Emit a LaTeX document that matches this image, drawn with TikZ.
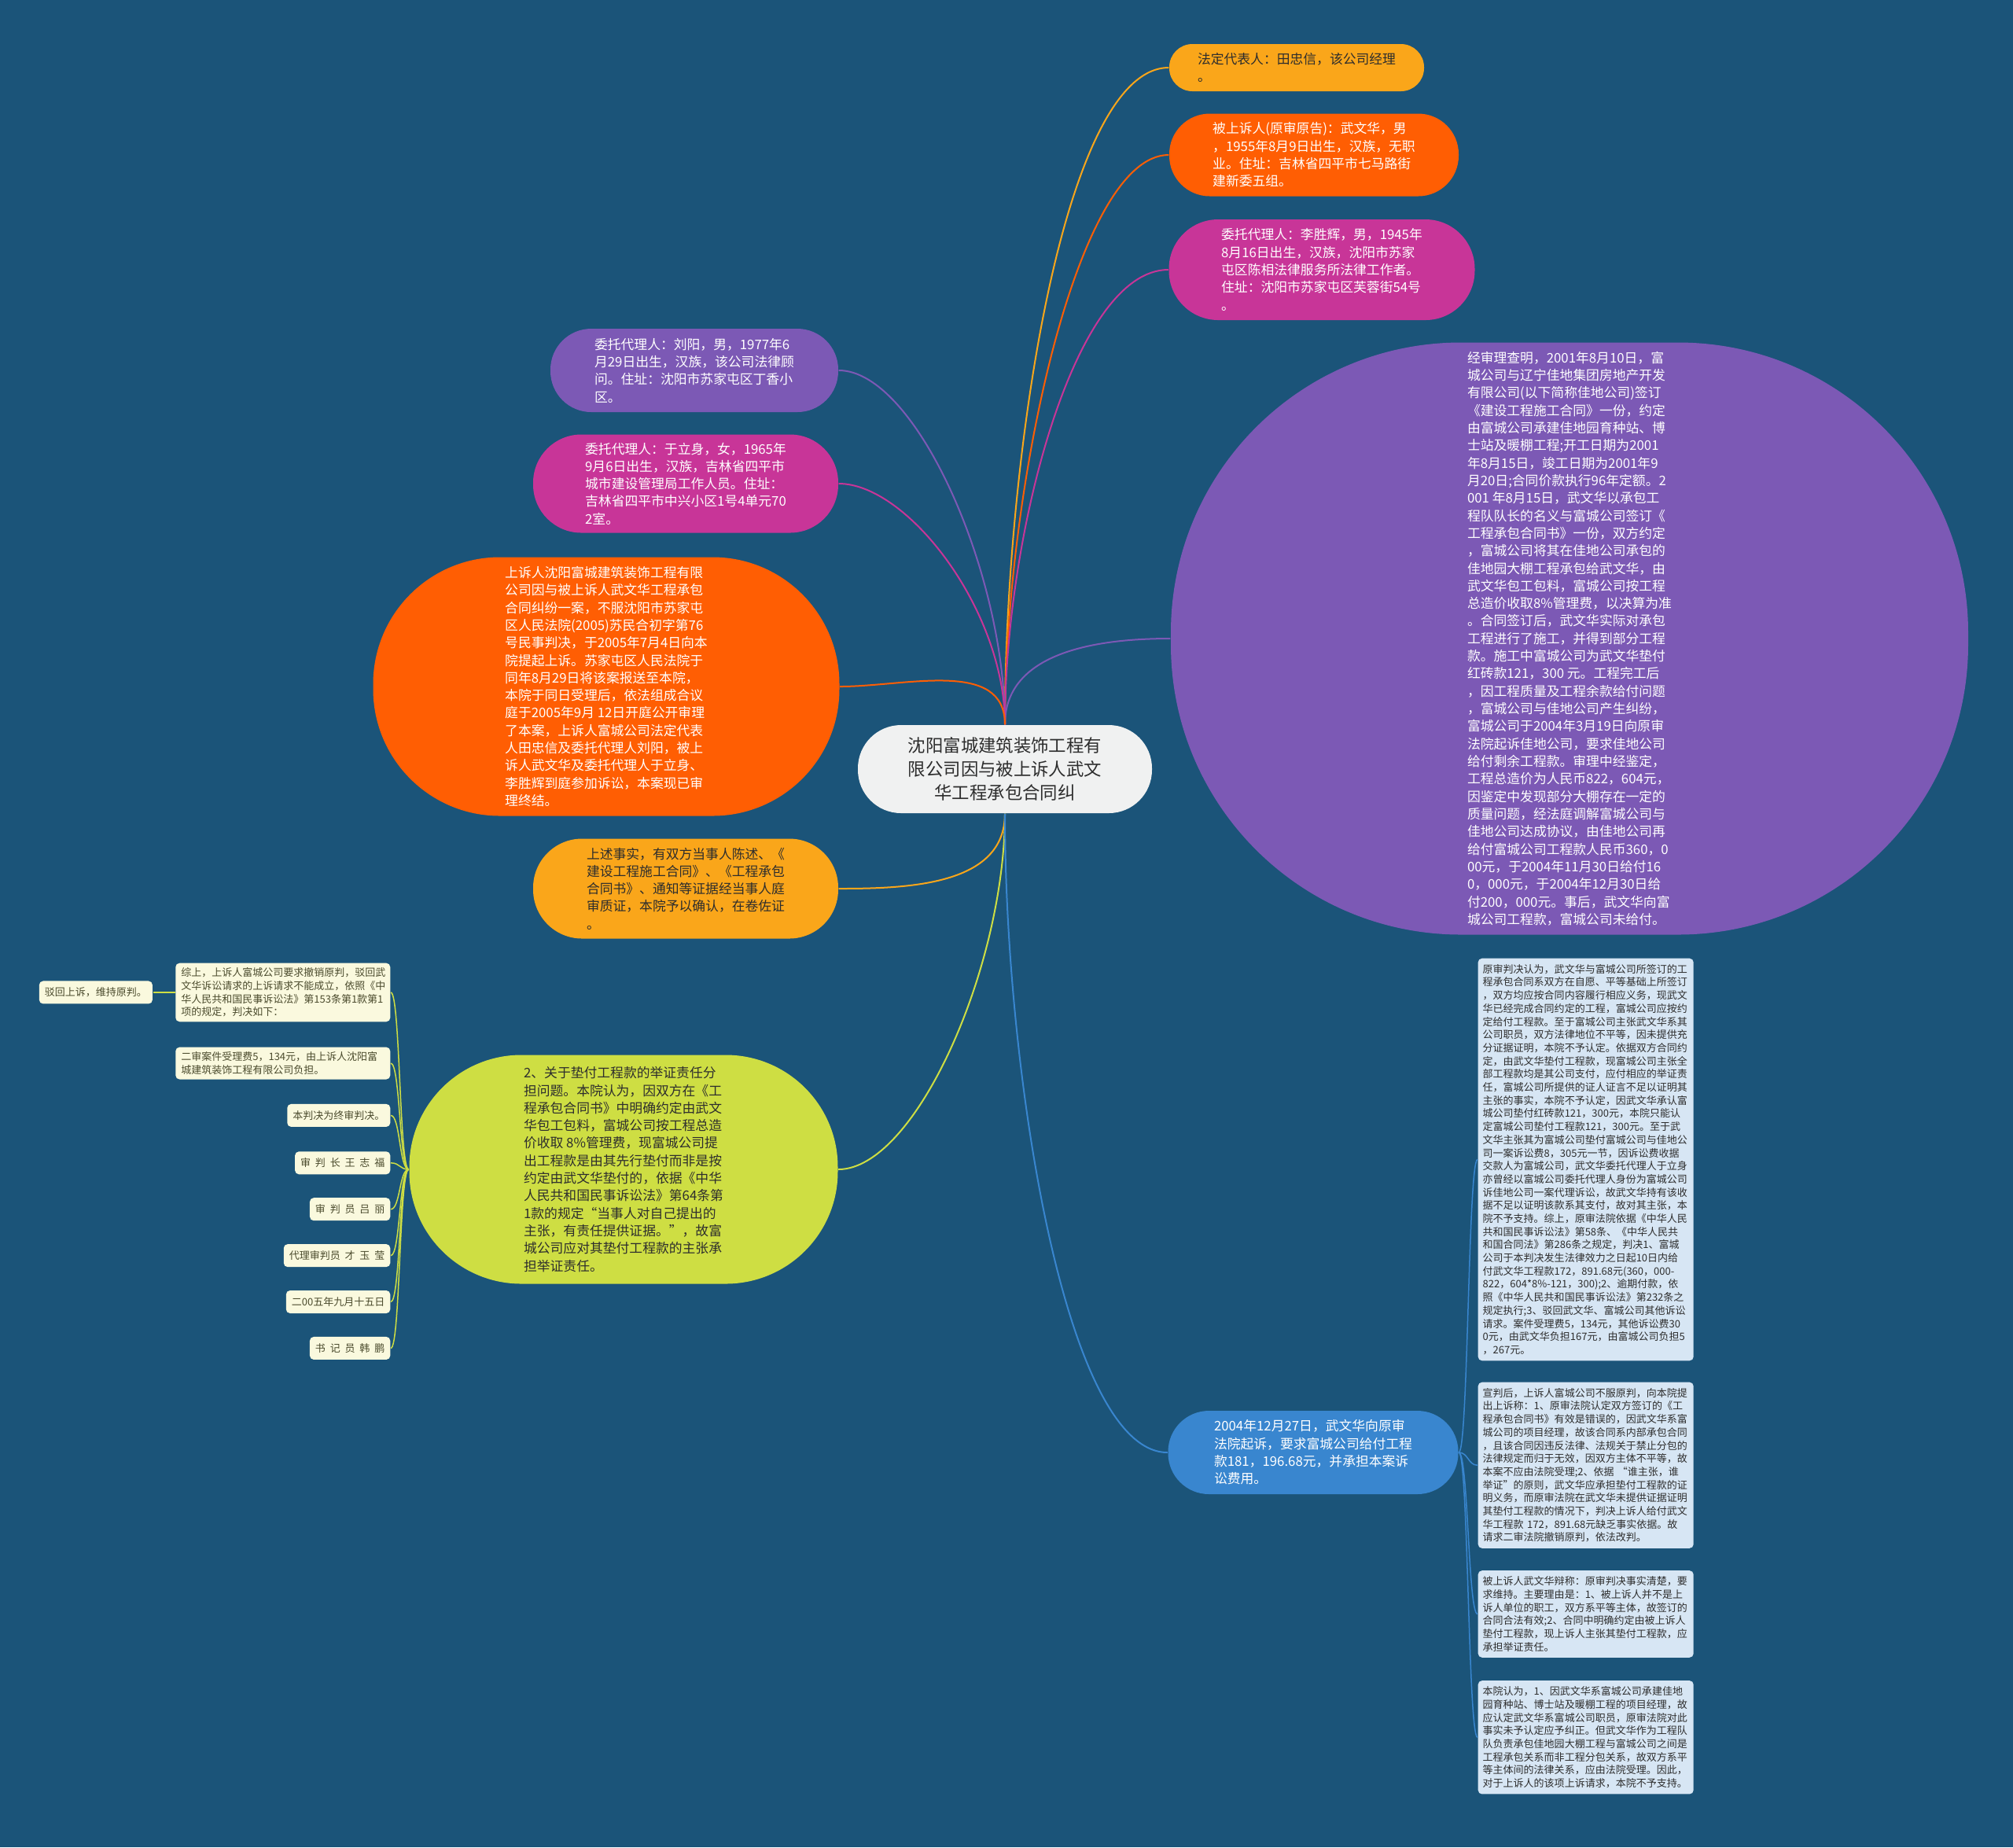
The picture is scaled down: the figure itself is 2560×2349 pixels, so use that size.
\documentclass[tikz,border=0pt]{standalone}
\usepackage{fontspec}
\usepackage{xcolor}
\usepackage{tikz}
\usetikzlibrary{positioning}
\setmainfont{Noto Sans CJK SC}
\newfontfamily\cjk{Noto Sans CJK SC}
\definecolor{bgblue}{RGB}{27,84,121}
\definecolor{cAmber}{RGB}{250,166,26}
\definecolor{cOrange}{RGB}{255,94,3}
\definecolor{cMagenta}{RGB}{200,53,152}
\definecolor{cPurple}{RGB}{124,89,181}
\definecolor{cLime}{RGB}{206,222,67}
\definecolor{cBlue}{RGB}{57,134,207}
\definecolor{cCenter}{RGB}{240,241,241}
\definecolor{cCream}{RGB}{250,249,222}
\definecolor{cIce}{RGB}{215,230,244}
\definecolor{darktext}{RGB}{45,45,45}
\definecolor{olivetext}{RGB}{75,75,45}
\newcommand\midfont{\cjk\fontsize{4.78pt}{6.35pt}\selectfont}
\newcommand\smallfont{\cjk\fontsize{3.7pt}{4.75pt}\selectfont}
\newcommand\bigfont{\cjk\fontsize{6.37pt}{8.54pt}\selectfont}

\begin{document}
\begin{tikzpicture}[
  x=0.1mm, y=-0.1mm,
  pill/.style 2 args={minimum width=#1mm,minimum height=#2mm,rounded corners=#2*0.49mm,inner sep=0pt,align=left,font=\midfont},
  note/.style={fill=cCream,text=olivetext,rounded corners=0.5mm,inner xsep=0.7mm,inner ysep=0.6mm,minimum height=2.9mm,align=left,font=\smallfont},
  bnote/.style={fill=cIce,text=darktext,rounded corners=0.5mm,inner xsep=0.6mm,inner ysep=0.75mm,text width=26.2mm,align=left,font=\smallfont},
  link/.style={line width=0.2mm},
  sublink/.style={line width=0.15mm}]
\fill[bgblue] (0,0) rectangle (2560,2349);
\useasboundingbox (0,0) rectangle (2560,2349);

\node[pill={37.4}{11.2},fill=cCenter,text=darktext,font=\bigfont,align=center] (root) at (1278,978)
  {沈阳富城建筑装饰工程有\\限公司因与被上诉人武文\\华工程承包合同纠};

% right side
\node[pill={32.4}{6.0},fill=cAmber,text=darktext] (legal) at (1649,86)
  {法定代表人：田忠信，该公司经理\\。};
\node[pill={36.8}{10.5},fill=cOrange,text=white] (appellee) at (1671,197)
  {被上诉人(原审原告)：武文华，男\\，1955年8月9日出生，汉族，无职\\业。住址：吉林省四平市七马路街\\建新委五组。};
\node[pill={38.9}{12.8},fill=cMagenta,text=white] (agentli) at (1681,343)
  {委托代理人：李胜辉，男，1945年\\8月16日出生，汉族，沈阳市苏家\\屯区陈相法律服务所法律工作者。\\住址：沈阳市苏家屯区芙蓉街54号\\。};
\node[pill={101.4}{75.3},fill=cPurple,text=white] (facts) at (1996,812)
  {经审理查明，2001年8月10日，富\\城公司与辽宁佳地集团房地产开发\\有限公司(以下简称佳地公司)签订\\《建设工程施工合同》一份，约定\\由富城公司承建佳地园育种站、博\\士站及暖棚工程;开工日期为2001\\年8月15日，竣工日期为2001年9\\月20日;合同价款执行96年定额。2\\001 年8月15日，武文华以承包工\\程队队长的名义与富城公司签订《\\工程承包合同书》一份，双方约定\\，富城公司将其在佳地公司承包的\\佳地园大棚工程承包给武文华，由\\武文华包工包料，富城公司按工程\\总造价收取8\%管理费，以决算为准\\。合同签订后，武文华实际对承包\\工程进行了施工，并得到部分工程\\款。施工中富城公司为武文华垫付\\红砖款121，300 元。工程完工后\\，因工程质量及工程余款给付问题\\，富城公司与佳地公司产生纠纷，\\富城公司于2004年3月19日向原审\\法院起诉佳地公司，要求佳地公司\\给付剩余工程款。审理中经鉴定，\\工程总造价为人民币822，604元，\\因鉴定中发现部分大棚存在一定的\\质量问题，经法庭调解富城公司与\\佳地公司达成协议，由佳地公司再\\给付富城公司工程款人民币360，0\\00元，于2004年11月30日给付16\\0，000元，于2004年12月30日给\\付200，000元。事后，武文华向富\\城公司工程款，富城公司未给付。};
\node[pill={36.9}{10.6},fill=cBlue,text=white] (suit) at (1670,1847)
  {2004年12月27日，武文华向原审\\法院起诉，要求富城公司给付工程\\款181，196.68元，并承担本案诉\\讼费用。};

% left side
\node[pill={36.6}{10.6},fill=cPurple,text=white] (agentliu) at (883,471)
  {委托代理人：刘阳，男，1977年6\\月29日出生，汉族，该公司法律顾\\问。住址：沈阳市苏家屯区丁香小\\区。};
\node[pill={38.8}{12.5},fill=cMagenta,text=white] (agentyu) at (872,615)
  {委托代理人：于立身，女，1965年\\9月6日出生，汉族，吉林省四平市\\城市建设管理局工作人员。住址：\\吉林省四平市中兴小区1号4单元70\\2室。};
\node[pill={59.3}{32.9},fill=cOrange,text=white] (appeal) at (771,873)
  {上诉人沈阳富城建筑装饰工程有限\\公司因与被上诉人武文华工程承包\\合同纠纷一案，不服沈阳市苏家屯\\区人民法院(2005)苏民合初字第76\\号民事判决，于2005年7月4日向本\\院提起上诉。苏家屯区人民法院于\\同年8月29日将该案报送至本院，\\本院于同日受理后，依法组成合议\\庭于2005年9月 12日开庭公开审理\\了本案，上诉人富城公司法定代表\\人田忠信及委托代理人刘阳，被上\\诉人武文华及委托代理人于立身、\\李胜辉到庭参加诉讼，本案现已审\\理终结。};
\node[pill={38.8}{12.7},fill=cAmber,text=darktext] (evidence) at (872,1130)
  {上述事实，有双方当事人陈述、《\\建设工程施工合同》、《工程承包\\合同书》、通知等证据经当事人庭\\审质证，本院予以确认，在卷佐证\\。};
\node[pill={54.5}{29.1},fill=cLime,text=darktext] (burden) at (793,1487)
  {2、关于垫付工程款的举证责任分\\担问题。本院认为，因双方在《工\\程承包合同书》中明确约定由武文\\华包工包料，富城公司按工程总造\\价收取 8\%管理费，现富城公司提\\出工程款是由其先行垫付而非是按\\约定由武文华垫付的，依据《中华\\人民共和国民事诉讼法》第64条第\\1款的规定“当事人对自己提出的\\主张，有责任提供证据。”，故富\\城公司应对其垫付工程款的主张承\\担举证责任。};

% judgment notes
\node[note,text width=25.9mm,anchor=north east] (summary) at (497,1224)
  {综上，上诉人富城公司要求撤销原判，驳回武\\文华诉讼请求的上诉请求不能成立，依照《中\\华人民共和国民事诉讼法》第153条第1款第1\\项的规定，判决如下：};
\node[note,left=2.8mm of summary] (reject) {驳回上诉，维持原判。};
\node[note,text width=25.9mm,below=3.1mm of summary.south east,anchor=north east] (fee)
  {二审案件受理费5，134元，由上诉人沈阳富\\城建筑装饰工程有限公司负担。};
\node[note,below=3mm of fee.south east,anchor=north east] (final) {本判决为终审判决。};
\node[note,below=3mm of final.south east,anchor=north east] (judge) {审~~判~~长~~王~~志~~福};
\node[note,below=2.85mm of judge.south east,anchor=north east] (juror) {审~~判~~员~~吕~~丽};
\node[note,below=2.85mm of juror.south east,anchor=north east] (acting) {代理审判员~~才~~玉~~莹};
\node[note,below=2.85mm of acting.south east,anchor=north east] (date) {二00五年九月十五日};
\node[note,below=2.85mm of date.south east,anchor=north east] (clerk) {书~~记~~员~~韩~~鹏};

% court notes
\node[bnote,anchor=north west] (firstruling) at (1879,1218)
  {原审判决认为，武文华与富城公司所签订的工\\程承包合同系双方在自愿、平等基础上所签订\\，双方均应按合同内容履行相应义务，现武文\\华已经完成合同约定的工程，富城公司应按约\\定给付工程款。至于富城公司主张武文华系其\\公司职员，双方法律地位不平等，因未提供充\\分证据证明，本院不予认定。依据双方合同约\\定，由武文华垫付工程款，现富城公司主张全\\部工程款均是其公司支付，应付相应的举证责\\任，富城公司所提供的证人证言不足以证明其\\主张的事实，本院不予认定，因武文华承认富\\城公司垫付红砖款121，300元，本院只能认\\定富城公司垫付工程款121，300元。至于武\\文华主张其为富城公司垫付富城公司与佳地公\\司一案诉讼费8，305元一节，因诉讼费收据\\交款人为富城公司，武文华委托代理人于立身\\亦曾经以富城公司委托代理人身份为富城公司\\诉佳地公司一案代理诉讼，故武文华持有该收\\据不足以证明该款系其支付，故对其主张，本\\院不予支持。综上，原审法院依据《中华人民\\共和国民事诉讼法》第58条、《中华人民共\\和国合同法》第286条之规定，判决1、富城\\公司于本判决发生法律效力之日起10日内给\\付武文华工程款172，891.68元(360，000-\\822，604*8\%-121，300);2、逾期付款，依\\照《中华人民共和国民事诉讼法》第232条之\\规定执行;3、驳回武文华、富城公司其他诉讼\\请求。案件受理费5，134元，其他诉讼费30\\0元，由武文华负担167元，由富城公司负担5\\，267元。};
\node[bnote,below=2.6mm of firstruling.south west,anchor=north west] (grounds)
  {宣判后，上诉人富城公司不服原判，向本院提\\出上诉称：1、原审法院认定双方签订的《工\\程承包合同书》有效是错误的，因武文华系富\\城公司的项目经理，故该合同系内部承包合同\\，且该合同因违反法律、法规关于禁止分包的\\法律规定而归于无效，因双方主体不平等，故\\本案不应由法院受理;2、依据 “谁主张，谁\\举证”的原则，武文华应承担垫付工程款的证\\明义务，而原审法院在武文华未提供证据证明\\其垫付工程款的情况下，判决上诉人给付武文\\华工程款 172，891.68元缺乏事实依据。故\\请求二审法院撤销原判，依法改判。};
\node[bnote,below=2.7mm of grounds.south west,anchor=north west] (reply)
  {被上诉人武文华辩称：原审判决事实清楚，要\\求维持。主要理由是：1、被上诉人并不是上\\诉人单位的职工，双方系平等主体，故签订的\\合同合法有效;2、合同中明确约定由被上诉人\\垫付工程款，现上诉人主张其垫付工程款，应\\承担举证责任。};
\node[bnote,below=2.8mm of reply.south west,anchor=north west] (opinion)
  {本院认为，1、因武文华系富城公司承建佳地\\园育种站、博士站及暖棚工程的项目经理，故\\应认定武文华系富城公司职员，原审法院对此\\事实未予认定应予纠正。但武文华作为工程队\\队负责承包佳地园大棚工程与富城公司之间是\\工程承包关系而非工程分包关系，故双方系平\\等主体间的法律关系，应由法院受理。因此，\\对于上诉人的该项上诉请求，本院不予支持。};

% branches from the root
\draw[link,cAmber] (root.north) to[out=90,in=180,in looseness=.4] (legal.west);
\draw[link,cOrange] (root.north) to[out=90,in=180,in looseness=.4] (appellee.west);
\draw[link,cMagenta] (root.north) to[out=90,in=180,in looseness=.5] (agentli.west);
\draw[link,cPurple] (root.north) to[out=90,in=180] (facts.west);
\draw[link,cPurple] (root.north) to[out=90,in=0,in looseness=.5] (agentliu.east);
\draw[link,cMagenta] (root.north) to[out=90,in=0,in looseness=.6] (agentyu.east);
\draw[link,cOrange] (root.north) to[out=90,in=0] (appeal.east);
\draw[link,cAmber] (root.south) to[out=-90,in=0] (evidence.east);
\draw[link,cLime] (root.south) to[out=-90,in=0,in looseness=.5] (burden.west -| burden.east);
\draw[link,cBlue] (root.south) to[out=-90,in=180,in looseness=.4] (suit.west);

% sub branches
\draw[sublink,cLime] (burden.west) .. controls +(-12,0) and +(12,0) .. (summary.east);
\draw[sublink,cLime] (burden.west) .. controls +(-12,0) and +(12,0) .. (fee.east);
\draw[sublink,cLime] (burden.west) .. controls +(-12,0) and +(12,0) .. (final.east);
\draw[sublink,cLime] (burden.west) .. controls +(-12,0) and +(12,0) .. (judge.east);
\draw[sublink,cLime] (burden.west) .. controls +(-12,0) and +(12,0) .. (juror.east);
\draw[sublink,cLime] (burden.west) .. controls +(-12,0) and +(12,0) .. (acting.east);
\draw[sublink,cLime] (burden.west) .. controls +(-12,0) and +(12,0) .. (date.east);
\draw[sublink,cLime] (burden.west) .. controls +(-12,0) and +(12,0) .. (clerk.east);
\draw[sublink,cLime] (summary.west) -- (reject.east);
\draw[sublink,cBlue] (suit.east) .. controls +(12,0) and +(-12,0) .. (firstruling.west);
\draw[sublink,cBlue] (suit.east) .. controls +(12,0) and +(-12,0) .. (grounds.west);
\draw[sublink,cBlue] (suit.east) .. controls +(12,0) and +(-12,0) .. (reply.west);
\draw[sublink,cBlue] (suit.east) .. controls +(12,0) and +(-12,0) .. (opinion.west);
\end{tikzpicture}
\end{document}
